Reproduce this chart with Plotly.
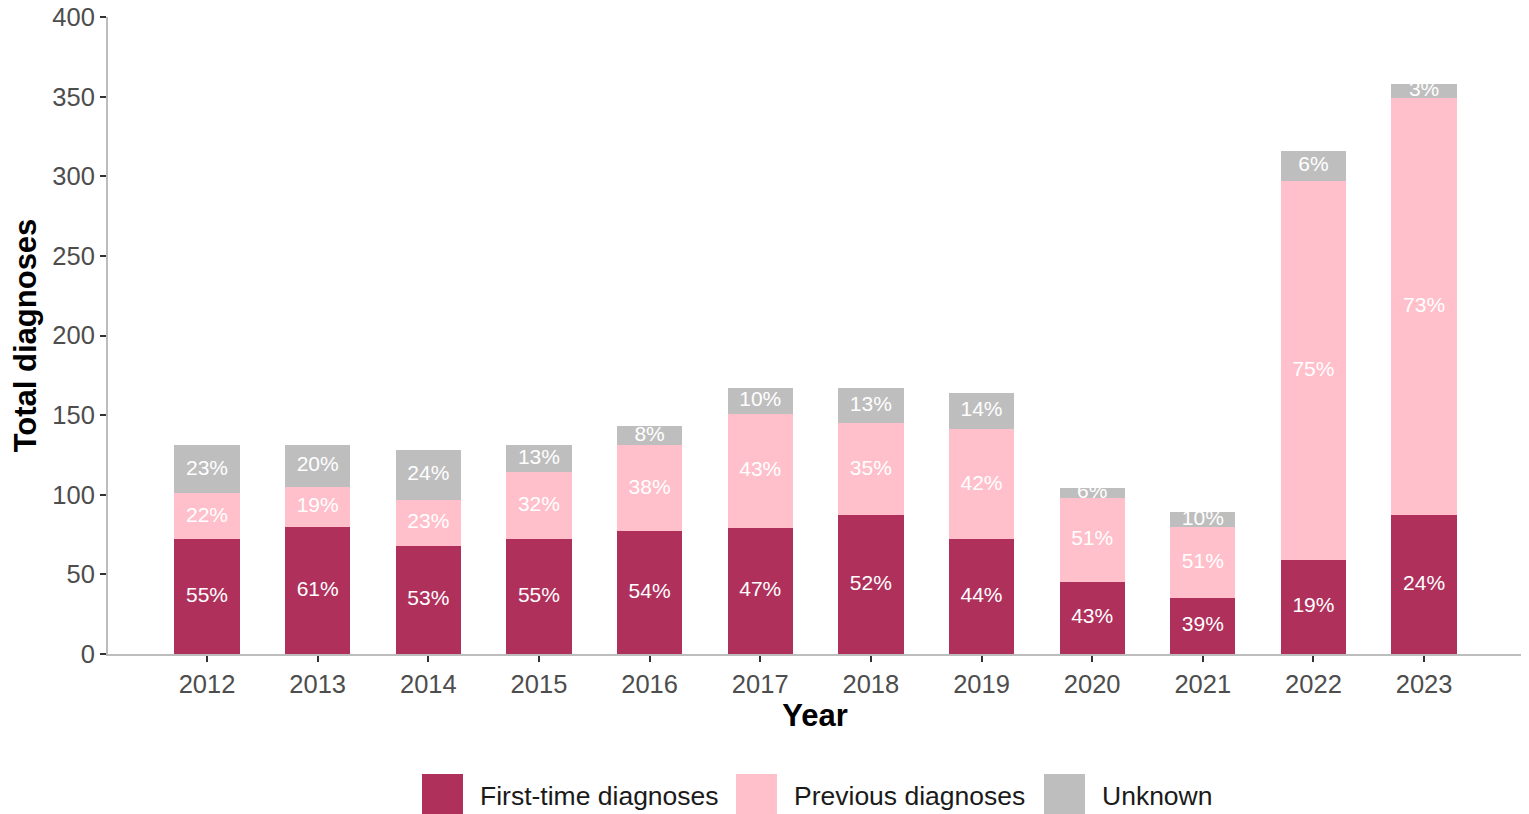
import plotly.graph_objects as go

years = ["2012", "2013", "2014", "2015", "2016", "2017", "2018", "2019", "2020", "2021", "2022", "2023"]
first_time = [72, 80, 68, 72, 77, 79, 87, 72, 45, 35, 59, 87]
previous = [29, 25, 29, 42, 54, 72, 58, 69, 53, 45, 238, 262]
unknown = [30, 26, 31, 17, 12, 16, 22, 23, 6, 9, 19, 9]

names = ["First-time diagnoses", "Previous diagnoses", "Unknown"]
colors = ["#B0305C", "#FFC0CB", "#BEBEBE"]

totals = [a + b + c for a, b, c in zip(first_time, previous, unknown)]
series = [first_time, previous, unknown]

fig = go.Figure()
for vals, name, col in zip(series, names, colors):
    fig.add_trace(go.Bar(x=years, y=vals, name=name, marker_color=col,
                         marker_line_width=0, showlegend=False))

# percentage labels at the middle of each segment
base = [0] * len(years)
for vals in series:
    mids = [b + v / 2 for b, v in zip(base, vals)]
    pct = ["%d%%" % round(100 * v / t) for v, t in zip(vals, totals)]
    fig.add_trace(go.Scatter(x=years, y=mids, text=pct, mode="text",
                             textfont=dict(color="white", size=21,
                                           family="Liberation Sans, Arial"),
                             showlegend=False, hoverinfo="skip"))
    base = [b + v for b, v in zip(base, vals)]

# page has an 8px body margin, so the figure is a bit smaller than the window
fig.update_layout(
    barmode="stack",
    bargap=0.41,
    width=1521, height=806,
    plot_bgcolor="white", paper_bgcolor="white",
    margin=dict(l=100, r=7, t=9, b=160),
    font=dict(family="Liberation Sans, Arial", color="#4d4d4d"),
)
fig.update_xaxes(
    type="category", range=[-0.895, 11.885], automargin=False,
    showline=True, linecolor="#bdbdbd", linewidth=2,
    ticks="outside", ticklen=6, tickwidth=2, tickcolor="#333333",
    tickfont=dict(size=25.5, color="#4d4d4d"),
    title=dict(text="<b>Year</b>", font=dict(size=31, color="black"), standoff=3),
    showgrid=False,
)
fig.update_yaxes(
    range=[0, 400], tickvals=[0, 50, 100, 150, 200, 250, 300, 350, 400],
    automargin=False,
    showline=True, linecolor="#bdbdbd", linewidth=2,
    ticks="outside", ticklen=6, tickwidth=2, tickcolor="#333333",
    tickfont=dict(size=25.5, color="#4d4d4d"), ticklabeloverflow="allow",
    title=dict(text="<b>Total diagnoses</b>", font=dict(size=31, color="black"), standoff=10),
    showgrid=False, zeroline=False,
)

# legend drawn by hand so the swatches are big squares like the original
leg_x = [422, 736, 1044]
for lx, name, col in zip(leg_x, names, colors):
    fig.add_shape(type="rect", xref="paper", yref="paper",
                  x0=(lx - 108) / 1414, x1=(lx + 41 - 108) / 1414,
                  y0=(654 - 816) / 637, y1=(654 - 774) / 637,
                  fillcolor=col, line_width=0)
    fig.add_annotation(text=name, xref="paper", yref="paper",
                       x=(lx + 56 - 108) / 1414, y=(654 - 796) / 637,
                       xanchor="left", yanchor="middle", showarrow=False,
                       font=dict(size=26.5, color="#1a1a1a"))

fig.write_html("out.html")
